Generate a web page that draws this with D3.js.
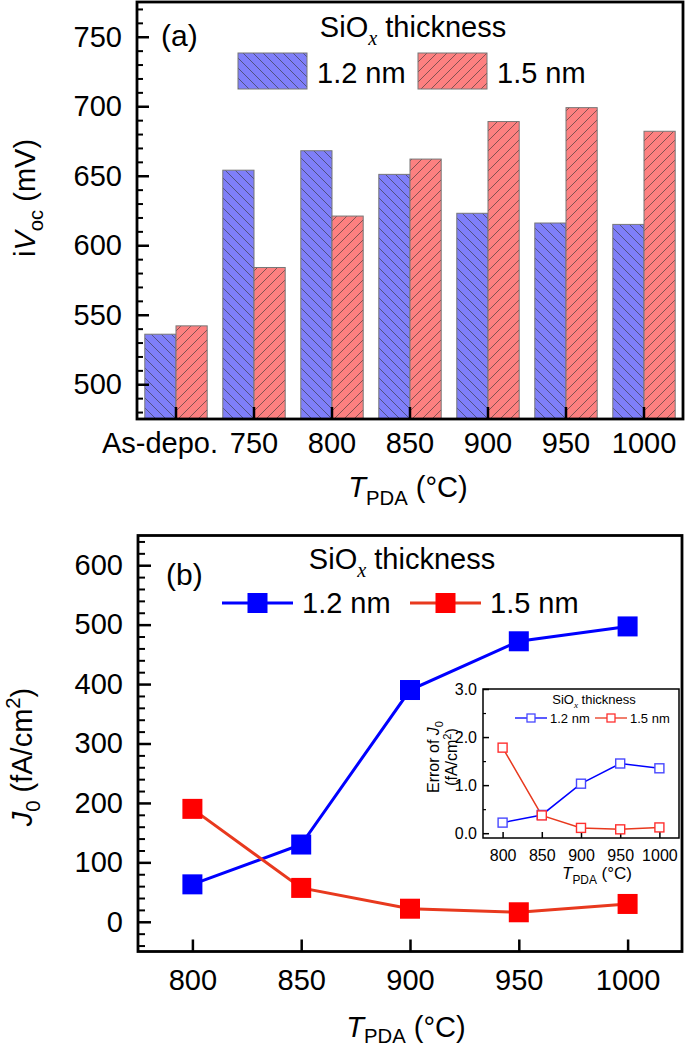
<!DOCTYPE html>
<html><head><meta charset="utf-8">
<script src="https://cdn.jsdelivr.net/npm/d3@7"></script>
<style>
body{margin:0;background:#fff;}
svg{display:block;font-family:"Liberation Sans",Arial,Helvetica,sans-serif;}
</style>
</head><body>
<svg id="c" width="685" height="1048"></svg>
<script>
// ---------- data ----------
const categoriesA = ["As-depo.","750","800","850","900","950","1000"];
const seriesA = ["1.2 nm","1.5 nm"];
const ivoc12 = [536,654,668,651,623,616,615];
const ivoc15 = [542,584,621,662,689,699,682];
const yTicksA = [500,550,600,650,700,750];

const tempsB = [800,850,900,950,1000];
const j0_12 = [63,130,390,472,497];
const j0_15 = [190,57,22,16,30];
const yTicksB = [0,100,200,300,400,500,600];

const err12 = [0.22,0.38,1.03,1.45,1.35];
const err15 = [1.78,0.37,0.11,0.08,0.12];
const yTicksIn = [0,1,2,3];

// ---------- helpers ----------
const SERIF = '"Liberation Serif","Times New Roman",serif';
const svg = d3.select("#c");
const FS = 29;

function rich(t, parts, fs, subK){
  const sk = subK || 0.28;
  let cur = 0;
  parts.forEach(p=>{
    const off = p.sub ? sk*fs : (p.sup ? -0.4*fs : 0);
    const ts = t.append("tspan").text(p.t).attr("dy", off-cur);
    cur = off;
    if(p.sub||p.sup) ts.attr("font-size", fs*0.7);
    if(p.i) ts.attr("font-style","italic");
    if(p.serif) ts.attr("font-family", SERIF);
  });
  return t;
}
function styleAxis(g, fs, sw){
  g.select(".domain").remove();
  g.selectAll(".tick line").attr("stroke","#000").attr("stroke-width",sw);
  g.selectAll(".tick text").attr("font-size",fs).attr("fill","#000")
    .attr("font-family",'"Liberation Sans",Arial,sans-serif');
}

// ---------- patterns ----------
const defs = svg.append("defs");
function hatch(id, color, dir){
  const p = defs.append("pattern").attr("id",id).attr("patternUnits","userSpaceOnUse")
    .attr("width",10).attr("height",10);
  p.append("rect").attr("width",10).attr("height",10).attr("fill",color);
  const d = dir==="back" ? "M-5,5 L5,15 M0,0 L10,10 M5,-5 L15,5"
                         : "M-5,5 L5,-5 M0,10 L10,0 M5,15 L15,5";
  p.append("path").attr("d",d).attr("stroke","#333").attr("stroke-opacity",0.75).attr("stroke-width",0.8);
}
hatch("hb","#7f7ff9","back");
hatch("hr","#fd8080","fwd");
const fills = {"1.2 nm":"url(#hb)","1.5 nm":"url(#hr)"};

// ================= Panel (a) =================
const A = {l:137, r:683, t:2, b:419};
const yA = d3.scaleLinear().domain([475,775]).range([A.b,A.t]);
const xA = d3.scaleBand().domain(categoriesA).range([A.l,A.r]);
const xA1 = d3.scaleBand().domain(seriesA).range([0,xA.bandwidth()]).paddingOuter(0.25);

const rowsA = categoriesA.map((c,i)=>({c, v:{"1.2 nm":ivoc12[i],"1.5 nm":ivoc15[i]}}));
const gA = svg.append("g");
gA.selectAll("g.cat").data(rowsA).join("g").attr("class","cat")
  .attr("transform",d=>`translate(${xA(d.c)},0)`)
  .selectAll("rect").data(d=>seriesA.map(s=>({s,v:d.v[s]}))).join("rect")
  .attr("x",d=>xA1(d.s)).attr("width",xA1.bandwidth())
  .attr("y",d=>yA(d.v)).attr("height",d=>yA(475)-yA(d.v))
  .attr("fill",d=>fills[d.s]).attr("stroke","#777").attr("stroke-width",1);

// axes
const ayA = gA.append("g").attr("transform",`translate(${A.l},0)`)
  .call(d3.axisLeft(yA).tickValues(yTicksA).tickSize(-12).tickPadding(15));
styleAxis(ayA, FS, 2.5);
const minorA = d3.range(480,775,10).filter(v=>v%50!==0);
const amA = gA.append("g").attr("transform",`translate(${A.l},0)`)
  .call(d3.axisLeft(yA).tickValues(minorA).tickSize(-6).tickFormat(""));
styleAxis(amA, FS, 2);
const axA = gA.append("g").attr("transform",`translate(0,${A.b})`)
  .call(d3.axisBottom(xA).tickSize(-12).tickPadding(13));
styleAxis(axA, FS, 2.5);
axA.selectAll(".tick text").filter(d=>d==="As-depo.").attr("dx",-16);

gA.append("rect").attr("x",A.l).attr("y",A.t).attr("width",A.r-A.l).attr("height",A.b-A.t)
  .attr("fill","none").attr("stroke","#000").attr("stroke-width",2.8);

// labels
rich(gA.append("text").attr("transform",`translate(35,198) rotate(-90)`).attr("text-anchor","middle")
  .attr("font-size",FS),
  [{t:"i"},{t:"V",i:true},{t:"oc",sub:true},{t:" (mV)"}], FS);
rich(gA.append("text").attr("x",408).attr("y",497).attr("text-anchor","middle").attr("font-size",FS),
  [{t:"T",i:true},{t:"PDA",sub:true},{t:" (°C)"}], FS);
gA.append("text").attr("x",161).attr("y",46).attr("font-size",30).text("(a)");
rich(gA.append("text").attr("x",413).attr("y",37).attr("text-anchor","middle").attr("font-size",FS),
  [{t:"SiO"},{t:"x",sub:true,i:true,serif:true},{t:" thickness"}], FS);
const legA = [{s:"1.2 nm",x:238},{s:"1.5 nm",x:418}];
legA.forEach(d=>{
  gA.append("rect").attr("x",d.x).attr("y",53).attr("width",69).attr("height",36)
    .attr("fill",fills[d.s]).attr("stroke","#777").attr("stroke-width",1);
  gA.append("text").attr("x",d.x+79).attr("y",83).attr("font-size",FS).text(d.s);
});

// ================= Panel (b) =================
const B = {l:138, r:682, t:535.5, b:951.5};
const xB = d3.scaleLinear().domain([775,1025]).range([B.l,B.r]);
const yB = d3.scaleLinear().domain([-50,650]).range([B.b,B.t]);
const gB = svg.append("g");
const blue = "#0000ff", redL = "#e8391e", redM = "#ff0000";

const ayB = gB.append("g").attr("transform",`translate(${B.l},0)`)
  .call(d3.axisLeft(yB).tickValues(yTicksB).tickSize(-13).tickPadding(15));
styleAxis(ayB, FS, 2.5);
const minorB = d3.range(-40,650,20).filter(v=>v%100!==0);
const amB = gB.append("g").attr("transform",`translate(${B.l},0)`)
  .call(d3.axisLeft(yB).tickValues(minorB).tickSize(-7).tickFormat(""));
styleAxis(amB, FS, 2);
const axB = gB.append("g").attr("transform",`translate(0,${B.b})`)
  .call(d3.axisBottom(xB).tickValues(tempsB).tickSize(-12).tickPadding(18).tickFormat(d3.format("d")));
styleAxis(axB, FS, 2.5);

const lineB = d3.line().x(d=>xB(d[0])).y(d=>yB(d[1]));
const seriesB = [{v:j0_12,lc:blue,mc:blue},{v:j0_15,lc:redL,mc:redM}];
seriesB.forEach(s=>{
  const pts = tempsB.map((t,i)=>[t,s.v[i]]);
  gB.append("path").attr("d",lineB(pts)).attr("fill","none").attr("stroke",s.lc).attr("stroke-width",3);
});
seriesB.forEach(s=>{
  const pts = tempsB.map((t,i)=>[t,s.v[i]]);
  gB.selectAll(null).data(pts).join("rect")
    .attr("x",d=>xB(d[0])-10).attr("y",d=>yB(d[1])-10).attr("width",20).attr("height",20)
    .attr("fill",s.mc);
});

gB.append("rect").attr("x",B.l).attr("y",B.t).attr("width",B.r-B.l).attr("height",B.b-B.t)
  .attr("fill","none").attr("stroke","#000").attr("stroke-width",2.8);

rich(gB.append("text").attr("transform",`translate(32,757) rotate(-90)`).attr("text-anchor","middle")
  .attr("font-size",FS),
  [{t:"J",i:true},{t:"0",sub:true},{t:" (fA/cm"},{t:"2",sup:true},{t:")"}], FS);
rich(gB.append("text").attr("x",406).attr("y",1037).attr("text-anchor","middle").attr("font-size",FS),
  [{t:"T",i:true},{t:"PDA",sub:true},{t:" (°C)"}], FS, 0.22);
gB.append("text").attr("x",166).attr("y",585).attr("font-size",30).text("(b)");
rich(gB.append("text").attr("x",402).attr("y",569).attr("text-anchor","middle").attr("font-size",FS),
  [{t:"SiO"},{t:"x",sub:true,i:true,serif:true},{t:" thickness"}], FS);
const legB = [{s:"1.2 nm",x:222,lc:blue,mc:blue},{s:"1.5 nm",x:410,lc:redL,mc:redM}];
legB.forEach(d=>{
  gB.append("line").attr("x1",d.x).attr("x2",d.x+71).attr("y1",603).attr("y2",603)
    .attr("stroke",d.lc).attr("stroke-width",3);
  gB.append("rect").attr("x",d.x+35.5-10).attr("y",593).attr("width",20).attr("height",20).attr("fill",d.mc);
  gB.append("text").attr("x",d.x+80).attr("y",613).attr("font-size",FS).text(d.s);
});

// ================= Inset =================
const I = {l:483, r:679, t:689, b:838};
const xI = d3.scaleLinear().domain([775,1025]).range([I.l,I.r]);
const yI = d3.scaleLinear().domain([-0.1,3]).range([I.b,I.t]);
const gI = svg.append("g");
gI.append("rect").attr("x",I.l).attr("y",I.t).attr("width",I.r-I.l).attr("height",I.b-I.t).attr("fill","#fff");
const FI = 16;
const ayI = gI.append("g").attr("transform",`translate(${I.l},0)`)
  .call(d3.axisLeft(yI).tickValues(yTicksIn).tickSize(-6).tickPadding(6));
styleAxis(ayI, FI, 1.5);
const amI = gI.append("g").attr("transform",`translate(${I.l},0)`)
  .call(d3.axisLeft(yI).tickValues([0.5,1.5,2.5]).tickSize(-3).tickFormat(""));
styleAxis(amI, FI, 1.2);
const axI = gI.append("g").attr("transform",`translate(0,${I.b})`)
  .call(d3.axisBottom(xI).tickValues(tempsB).tickSize(-6).tickPadding(12).tickFormat(d3.format("d")));
styleAxis(axI, FI, 1.5);

const lineI = d3.line().x(d=>xI(d[0])).y(d=>yI(d[1]));
const seriesI = [{v:err12,lc:blue,mc:"#4848ff"},{v:err15,lc:redL,mc:"#ff3030"}];
seriesI.forEach(s=>{
  const pts = tempsB.map((t,i)=>[t,s.v[i]]);
  gI.append("path").attr("d",lineI(pts)).attr("fill","none").attr("stroke",s.lc).attr("stroke-width",1.5);
});
seriesI.forEach(s=>{
  const pts = tempsB.map((t,i)=>[t,s.v[i]]);
  gI.selectAll(null).data(pts).join("rect")
    .attr("x",d=>xI(d[0])-4.5).attr("y",d=>yI(d[1])-4.5).attr("width",9).attr("height",9)
    .attr("fill","#fff").attr("stroke",s.mc).attr("stroke-width",1.4);
});
gI.append("rect").attr("x",I.l).attr("y",I.t).attr("width",I.r-I.l).attr("height",I.b-I.t)
  .attr("fill","none").attr("stroke","#000").attr("stroke-width",1.5);

rich(gI.append("text").attr("transform",`translate(439,757) rotate(-90)`).attr("text-anchor","middle").attr("font-size",16),
  [{t:"Error of "},{t:"J",i:true},{t:"0",sub:true}], 16);
rich(gI.append("text").attr("transform",`translate(457,757) rotate(-90)`).attr("text-anchor","middle").attr("font-size",16),
  [{t:"(fA/cm"},{t:"2",sup:true},{t:")"}], 16);
rich(gI.append("text").attr("x",597).attr("y",879).attr("text-anchor","middle").attr("font-size",17),
  [{t:"T",i:true},{t:"PDA",sub:true},{t:" (°C)"}], 17);
rich(gI.append("text").attr("x",594).attr("y",704).attr("text-anchor","middle").attr("font-size",13),
  [{t:"SiO"},{t:"x",sub:true,i:true,serif:true},{t:" thickness"}], 13);
const legI = [{s:"1.2 nm",x:515,lc:blue,mc:"#4848ff"},{s:"1.5 nm",x:595,lc:redL,mc:"#ff3030"}];
legI.forEach(d=>{
  gI.append("line").attr("x1",d.x).attr("x2",d.x+32).attr("y1",718).attr("y2",718)
    .attr("stroke",d.lc).attr("stroke-width",1.3);
  gI.append("rect").attr("x",d.x+16-4).attr("y",714).attr("width",8).attr("height",8)
    .attr("fill","#fff").attr("stroke",d.mc).attr("stroke-width",1.3);
  gI.append("text").attr("x",d.x+35).attr("y",723).attr("font-size",13).text(d.s);
});
</script>
</body></html>
